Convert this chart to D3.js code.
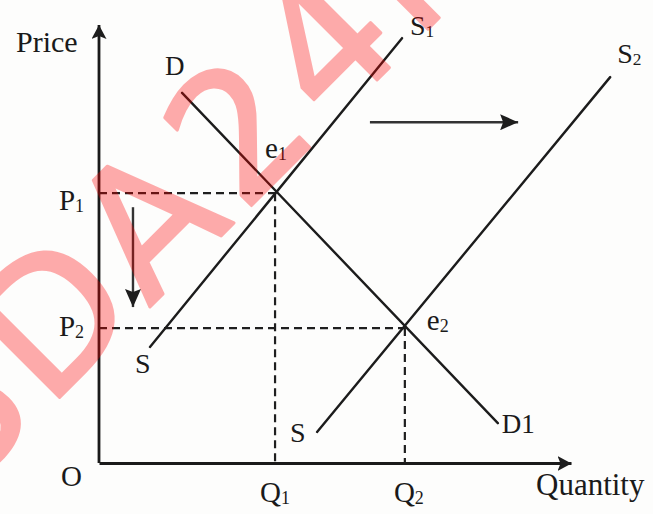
<!DOCTYPE html>
<meta charset="utf-8">
<style>
    body { margin: 0; background: #fff; }
    svg { display: block; background: #fdfdfc; }
    .lbl { font-family: "Liberation Serif", "Times New Roman", serif; fill: #1a1a1a; }
    .curve { fill: none; stroke: #1c1c1c; stroke-width: 2.4px; stroke-linecap: round; }
    .guide { fill: none; stroke: #1f1f1f; stroke-width: 2.2px; stroke-dasharray: 8 5; }
    .axis path { stroke: #1a1a1a; stroke-width: 2.8px; }
    .shift { stroke: #333; stroke-width: 2.4px; }
    .wm { font-family: "DejaVu Sans", sans-serif; fill: rgb(255, 0, 0); stroke: rgb(255, 0, 0); stroke-width: 3px; stroke-linejoin: round; }
</style>

<body>
    <script src="https://d3js.org/d3.v7.min.js"></script>
    <script>
        // curves, in quantity / price units (0..100 on each axis)
        var demand = [[17.6, 84.5], [84.5, 9.1]];
        var supply1 = [[10.8, 26.5], [64.2, 97.0]];
        var supply2 = [[46.2, 7.1], [108.3, 88.1]];

        var equilibria = [
            { name: "e", sub: "1", q: 37.3, p: 61.6 },
            { name: "e", sub: "2", q: 64.8, p: 30.8 }
        ];
        var priceTicks = [
            { base: "P", sub: "1", value: 61.6 },
            { base: "P", sub: "2", value: 30.8 }
        ];
        var quantityTicks = [
            { base: "Q", sub: "1", value: 37.3 },
            { base: "Q", sub: "2", value: 64.8 }
        ];
        // supply shift arrow and price fall arrow
        var shiftArrows = [
            [[57.4, 77.8], [88.8, 77.8]],
            [[7.2, 58.4], [7.2, 35.6]]
        ];

        var width = 653, height = 514;
        var svg = d3.select("body").append("svg").attr("width", width).attr("height", height);

        var x = d3.scaleLinear().domain([0, 100]).range([99, 571]);
        var y = d3.scaleLinear().domain([0, 100]).range([463, 25]);

        var defs = svg.append("defs");
        function marker(id, len, half) {
            defs.append("marker")
                .attr("id", id)
                .attr("viewBox", (-len) + " " + (-half) + " " + len + " " + (2 * half))
                .attr("refX", 0).attr("refY", 0)
                .attr("markerUnits", "userSpaceOnUse")
                .attr("markerWidth", len).attr("markerHeight", 2 * half)
                .attr("orient", "auto")
                .append("path")
                .attr("d", "M0,0L" + (-len) + "," + (-half) + "L" + (-len + 3) + ",0L" + (-len) + "," + half + "Z")
                .attr("fill", "#1d1d1d");
        }
        marker("axisHead", 14, 7.5);
        marker("shiftHead", 18, 8);

        // axes: only the domain lines, no ticks
        var xAxis = svg.append("g").attr("class", "axis")
            .attr("transform", "translate(0," + y(0) + ")")
            .call(d3.axisBottom(x).tickValues([]).tickSizeOuter(0));
        xAxis.select(".domain").attr("marker-end", "url(#axisHead)");

        var yAxis = svg.append("g").attr("class", "axis")
            .attr("transform", "translate(" + x(0) + ",0)")
            .call(d3.axisLeft(y).tickValues([]).tickSizeOuter(0));
        // redraw upward so the arrow sits at the top
        yAxis.select(".domain").attr("d", "M0," + y(0) + "V" + y(100)).attr("marker-end", "url(#axisHead)");

        var line = d3.line().x(d => x(d[0])).y(d => y(d[1]));

        // dashed guides
        svg.selectAll(".hguide").data(equilibria).enter().append("path")
            .attr("class", "guide")
            .attr("d", d => line([[0, d.p], [d.q, d.p]]));
        svg.selectAll(".vguide").data(equilibria).enter().append("path")
            .attr("class", "guide")
            .attr("d", d => line([[d.q, d.p], [d.q, 0]]));

        svg.selectAll(".curve").data([demand, supply1, supply2]).enter().append("path")
            .attr("class", "curve")
            .attr("d", line);

        svg.selectAll(".shift").data(shiftArrows).enter().append("path")
            .attr("class", "shift")
            .attr("d", line)
            .attr("marker-end", "url(#shiftHead)");

        function label(px, py, base, sub, size, anchor) {
            var t = svg.append("text").attr("class", "lbl")
                .attr("x", px).attr("y", py)
                .attr("font-size", size)
                .attr("text-anchor", anchor || "start");
            t.append("tspan").text(base);
            if (sub) t.append("tspan").attr("font-size", size * 0.62).attr("dy", 2).text(sub);
            return t;
        }

        label(16, 52, "Price", null, 30);
        label(x(100) - 35, 495, "Quantity", null, 31);
        label(x(0) - 38, y(0) + 23, "O", null, 29);

        priceTicks.forEach((d, i) => label(x(0) - 15, y(d.value) + (i ? 8 : 17), d.base, d.sub, 29, "end"));
        quantityTicks.forEach((d, i) => label(x(d.value) + (i ? 4 : 0), 502, d.base, d.sub, 29, "middle"));

        equilibria.forEach((d, i) => label(x(d.q) + (i ? 22 : -10), y(d.p) + (i ? 2 : -35), d.name, d.sub, 29));

        label(x(demand[0][0]) - 17, y(demand[0][1]) - 18, "D", null, 27);
        label(x(demand[1][0]) + 4, y(demand[1][1]) + 10, "D1", null, 27);
        label(x(supply1[1][0]) + 8, y(supply1[1][1]) - 3, "S", "1", 28);
        label(x(supply2[1][0]) + 7, y(supply2[1][1]) - 14, "S", "2", 28);
        label(x(supply1[0][0]) - 15, y(supply1[0][1]) + 26, "S", null, 28);
        label(x(supply2[0][0]) - 27, y(supply2[0][1]) + 10, "S", null, 28);

        // watermark
        svg.append("g")
            .attr("opacity", 0.32)
            .attr("transform", "translate(48,409) rotate(-45)")
            .append("text").attr("class", "wm")
            .attr("x", -124).attr("y", 0)
            .attr("font-size", 178)
            .attr("letter-spacing", 10)
            .text("SDA24h");
    </script>
</body>

</html>
